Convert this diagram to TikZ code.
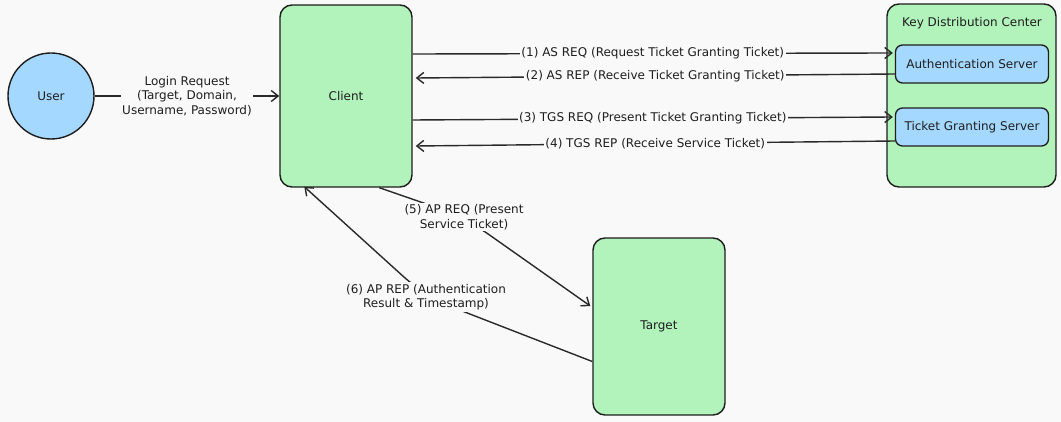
\documentclass[tikz,border=0pt]{standalone}
\usepackage{fontspec}
\setmainfont{DejaVu Sans}
\usetikzlibrary{arrows.meta,calc}
\definecolor{bg}{HTML}{F9F9F9}
\definecolor{stroke}{HTML}{1E1E1E}
\definecolor{line}{HTML}{2A2A2A}
\definecolor{boxgreen}{HTML}{B2F2BB}
\definecolor{boxblue}{HTML}{A5D8FF}
\begin{document}
\begin{tikzpicture}[x=1pt,y=-1pt,
  font=\fontsize{12}{14.5}\selectfont,
  every node/.style={text=stroke},
  gbox/.style={draw=stroke, line width=1.4pt, fill=boxgreen, rounded corners=12pt, inner sep=0pt},
  srv/.style={draw=stroke, line width=1.3pt, fill=boxblue, rounded corners=7pt, minimum width=153pt, minimum height=38pt, inner sep=0pt},
  arr/.style={draw=line, line width=1.4pt, -{Straight Barb[length=7pt,width=11pt,line width=1.4pt]}},
  lbl/.style={fill=bg, inner sep=1.5pt, align=center, font=\fontsize{12}{14.5}\selectfont}]
\fill[bg] (0,0) rectangle (1061,422);
\useasboundingbox (0,0) rectangle (1061,422);

\node[circle, draw=stroke, line width=1.4pt, fill=boxblue, minimum size=86pt, inner sep=0pt] (user) at (51,96) {User};
\node[gbox, minimum width=132pt, minimum height=182pt] (client) at (346,96) {Client};
\node[gbox, minimum width=169pt, minimum height=183pt] (kdc) at (971.5,95.5) {};
\node (kdctitle) at (972,23) {Key Distribution Center};
\node[srv] (auth) at (972,64) {Authentication Server};
\node[srv] (tgs) at (972,127) {Ticket Granting Server};
\node[gbox, minimum width=132pt, minimum height=177pt] (target) at (659,326.5) {Target};

% login
\draw[arr] (user) -- (client.west |- user) node[lbl, midway] {Login Request\\(Target, Domain,\\Username, Password)};

% (1)
\draw[arr] ($(auth.west -| client.east)+(0,10pt)$) -- ($(auth.west)+(-2pt,11pt)$)
  node[lbl, midway] {(1) AS REQ (Request Ticket Granting Ticket)};
% (2)
\draw[arr] ($(auth.west)+(0,-10pt)$) -- ($(auth.west -| client.east)+(3pt,-14pt)$)
  node[lbl, midway] {(2) AS REP (Receive Ticket Granting Ticket)};
% (3)
\draw[arr] ($(tgs.west -| client.east)+(0,7pt)$) -- ($(tgs.west)+(-2pt,10pt)$)
  node[lbl, midway] {(3) TGS REQ (Present Ticket Granting Ticket)};
% (4)
\draw[arr] ($(tgs.west)+(0,-14pt)$) -- ($(tgs.west -| client.east)+(3pt,-19pt)$)
  node[lbl, midway] {(4) TGS REP (Receive Service Ticket)};

% (5)
\coordinate (m5) at (464,217);
\draw[arr, rounded corners=30pt] ($(client.south west)+(100pt,0)$) -- (m5) -- ($(target.west)+(-2pt,20.5pt)$);
\node[lbl] (l5) at (m5) {(5) AP REQ (Present\\Service Ticket)};

% (6)
\coordinate (m6) at (426,297);
\draw[arr, rounded corners=30pt] ($(target.west)+(0,-35pt)$) -- (m6) -- ($(client.south west)+(25pt,1pt)$);
\node[lbl] (l6) at (m6) {(6) AP REP (Authentication\\Result \& Timestamp)};
\end{tikzpicture}
\end{document}
